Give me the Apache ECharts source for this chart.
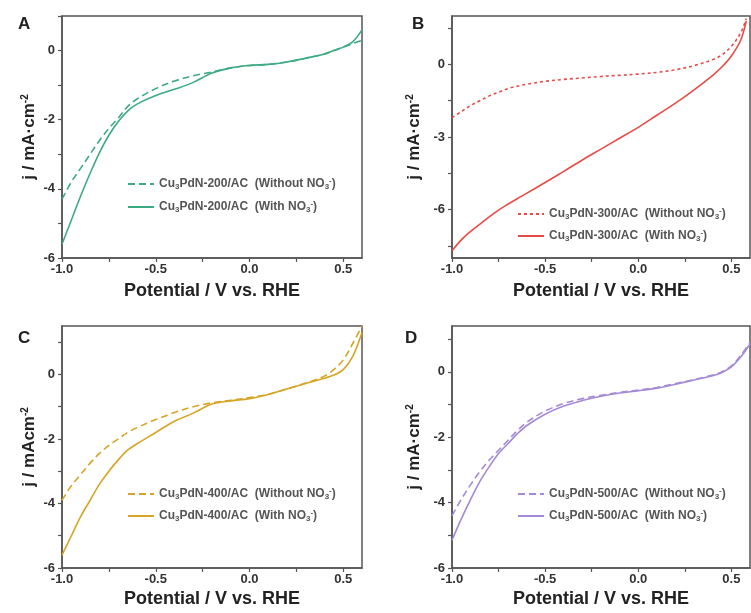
<!DOCTYPE html>
<html>
<head>
<meta charset="utf-8">
<script src="https://cdn.jsdelivr.net/npm/echarts@6/dist/echarts.min.js"></script>
<style>
html,body{margin:0;padding:0;background:#fff;}
#chart{width:751px;height:613px;}
</style>
</head>
<body>
<div id="chart"></div>
<script>
// ---- data ----
const potential = [-1.0,-0.95,-0.9,-0.85,-0.8,-0.75,-0.7,-0.65,-0.6,-0.5,-0.4,-0.3,-0.2,-0.1,0.0,0.1,0.2,0.3,0.4,0.45,0.5,0.55,0.6];
const potentialB = [-1.0,-0.95,-0.9,-0.85,-0.8,-0.75,-0.7,-0.65,-0.6,-0.5,-0.4,-0.3,-0.2,-0.1,0.0,0.1,0.2,0.3,0.4,0.45,0.5,0.55,0.58];

const a200Without = [-4.3,-3.8,-3.4,-3.0,-2.6,-2.25,-1.95,-1.62,-1.4,-1.1,-0.88,-0.73,-0.62,-0.5,-0.43,-0.4,-0.33,-0.22,-0.1,0.0,0.1,0.2,0.3];
const a200With    = [-5.6,-4.9,-4.2,-3.55,-2.95,-2.45,-2.05,-1.75,-1.55,-1.3,-1.12,-0.92,-0.65,-0.5,-0.43,-0.4,-0.33,-0.22,-0.1,0.0,0.1,0.25,0.6];

const b300Without = [-2.2,-1.95,-1.7,-1.5,-1.3,-1.15,-1.0,-0.9,-0.82,-0.7,-0.62,-0.56,-0.5,-0.45,-0.4,-0.33,-0.22,-0.05,0.2,0.4,0.75,1.3,1.9];
const b300With    = [-7.7,-7.25,-6.9,-6.6,-6.3,-6.02,-5.78,-5.55,-5.33,-4.88,-4.42,-3.95,-3.5,-3.05,-2.6,-2.1,-1.6,-1.05,-0.45,-0.1,0.35,1.0,1.8];

const c400Without = [-3.9,-3.45,-3.1,-2.75,-2.45,-2.2,-2.0,-1.8,-1.65,-1.4,-1.18,-1.0,-0.88,-0.8,-0.72,-0.62,-0.45,-0.27,-0.05,0.15,0.45,0.95,1.5];
const c400With    = [-5.6,-5.0,-4.4,-3.9,-3.4,-3.0,-2.65,-2.35,-2.15,-1.8,-1.45,-1.2,-0.92,-0.82,-0.75,-0.62,-0.45,-0.28,-0.12,-0.02,0.15,0.55,1.3];

const d500Without = [-4.4,-3.9,-3.45,-3.05,-2.7,-2.4,-2.1,-1.8,-1.55,-1.2,-0.97,-0.82,-0.72,-0.63,-0.56,-0.48,-0.36,-0.24,-0.1,0.0,0.18,0.5,0.9];
const d500With    = [-5.15,-4.5,-3.9,-3.35,-2.9,-2.5,-2.2,-1.9,-1.65,-1.3,-1.05,-0.88,-0.75,-0.65,-0.58,-0.5,-0.38,-0.25,-0.12,-0.02,0.15,0.45,0.85];

const xTickLabels = [-1.0,-0.5,0.0,0.5];
const xTicks = [-1.0,-0.75,-0.5,-0.25,0.0,0.25,0.5];
const yLabelsACD = [-6,-4,-2,0];
const yLabelsB = [-6,-3,0];

const panels = [
  {letter:'A', temp:'200', x:potential, without:a200Without, withN:a200With, color:'#3dab82', ymin:-6, ymax:1,
   ylabels:yLabelsACD, yticks:[-6,-5,-4,-3,-2,-1,0,1], ytitle:'j / mA·cm{sup|-2}',
   grid:{left:62, top:16, width:300, height:242}, nameGapY:24, dash:[7,4],
   legend:{left:127, top:177, itemGap:9}, letterPos:[18,16]},
  {letter:'B', temp:'300', x:potentialB, without:b300Without, withN:b300With, color:'#e64b46', ymin:-8, ymax:2,
   ylabels:yLabelsB, yticks:[-7.5,-6,-4.5,-3,-1.5,0,1.5], ytitle:'j / mA·cm{sup|-2}',
   grid:{left:452, top:16, width:298, height:242}, nameGapY:29, dash:[3,3],
   legend:{left:517, top:207, itemGap:8}, letterPos:[412,16]},
  {letter:'C', temp:'400', x:potential, without:c400Without, withN:c400With, color:'#d6a526', ymin:-6, ymax:1.5,
   ylabels:yLabelsACD, yticks:[-6,-5,-4,-3,-2,-1,0,1], ytitle:'j / mAcm{sup|-2}',
   grid:{left:62, top:326, width:300, height:242}, nameGapY:24, dash:[7,4],
   legend:{left:127, top:487, itemGap:8}, letterPos:[18,330]},
  {letter:'D', temp:'500', x:potential, without:d500Without, withN:d500With, color:'#a48ad6', ymin:-6, ymax:1.4,
   ylabels:yLabelsACD, yticks:[-6,-5,-4,-3,-2,-1,0,1], ytitle:'j / mA·cm{sup|-2}',
   grid:{left:452, top:326, width:298, height:242}, nameGapY:29, dash:[7,4],
   legend:{left:517, top:487, itemGap:8}, letterPos:[405,330]}
];

const FONT = '"Liberation Sans", Arial, sans-serif';
const AXC = '#555';

const grids = [], xAxes = [], yAxes = [], series = [], legends = [], graphics = [];

panels.forEach((p, i) => {
  grids.push(Object.assign({show:true, borderColor:AXC, borderWidth:1.5, backgroundColor:'transparent'}, p.grid));
  xAxes.push({
    type:'value', gridIndex:i, min:-1, max:0.6,
    name:'Potential / V vs. RHE', nameLocation:'middle', nameGap: i < 2 ? 24 : 22,
    nameTextStyle:{fontFamily:FONT, fontWeight:'bold', fontSize:18, color:'#222'},
    axisLine:{show:true, onZero:false, lineStyle:{color:AXC, width:1.5}},
    axisTick:{show:true, inside:false, length:4, lineStyle:{color:AXC, width:1.2}, customValues:xTicks},
    axisLabel:{show:true, customValues:xTickLabels, margin:5, fontFamily:FONT, fontWeight:'bold', fontSize:13, color:'#333',
      formatter:(v)=>v.toFixed(1)},
    splitLine:{show:false}
  });
  yAxes.push({
    type:'value', gridIndex:i, min:p.ymin, max:p.ymax,
    name:p.ytitle, nameLocation:'middle', nameGap:p.nameGapY, nameRotate:90,
    nameTextStyle:{fontFamily:FONT, fontWeight:'bold', fontSize:17, color:'#222',
      rich:{sup:{fontFamily:FONT, fontWeight:'bold', fontSize:10, color:'#222', verticalAlign:'top', padding:[0,0,8,0]}}},
    axisLine:{show:true, onZero:false, lineStyle:{color:AXC, width:1.5}},
    axisTick:{show:true, inside:false, length:4, lineStyle:{color:AXC, width:1.2}, customValues:p.yticks},
    axisLabel:{show:true, customValues:p.ylabels, margin:7, fontFamily:FONT, fontWeight:'bold', fontSize:13, color:'#333',
      formatter:(v)=>String(v)},
    splitLine:{show:false}
  });
  const nWithout = 'Cu3PdN-' + p.temp + '/AC  (Without NO3-)';
  const nWith = 'Cu3PdN-' + p.temp + '/AC  (With NO3-)';
  series.push({
    name:nWithout, type:'line', xAxisIndex:i, yAxisIndex:i, smooth:0.35, symbol:'none',
    lineStyle:{color:p.color, width:1.6, type:p.dash}, itemStyle:{color:p.color},
    data:p.x.map((x, k) => [x, p.without[k]]), z:3
  });
  series.push({
    name:nWith, type:'line', xAxisIndex:i, yAxisIndex:i, smooth:0.35, symbol:'none',
    lineStyle:{color:p.color, width:1.6, type:'solid'}, itemStyle:{color:p.color},
    data:p.x.map((x, k) => [x, p.withN[k]]), z:4
  });
  legends.push({
    data:[nWithout, nWith], orient:'vertical', left:p.legend.left, top:p.legend.top,
    itemGap:p.legend.itemGap, itemWidth:26, itemHeight:10, padding:0,
    selectedMode:false,
    itemStyle:{opacity:0},
    formatter:(name) => name.replace('Cu3PdN', 'Cu{s|3}PdN').replace('NO3-', 'NO{s|3}{p|-}'),
    textStyle:{fontFamily:FONT, fontWeight:'bold', fontSize:12, color:'#555',
      rich:{
        s:{fontFamily:FONT, fontWeight:'bold', fontSize:8, color:'#555', verticalAlign:'bottom', padding:[4,0,0,0]},
        p:{fontFamily:FONT, fontWeight:'bold', fontSize:8, color:'#555', verticalAlign:'top', padding:[0,0,6,0]}
      }}
  });
  graphics.push({
    type:'text', left:p.letterPos[0], top:p.letterPos[1],
    style:{text:p.letter, fontFamily:FONT, fontWeight:'bold', fontSize:17, fill:'#222'}
  });
});

const chart = echarts.init(document.getElementById('chart'), null, {renderer:'canvas'});
chart.setOption({
  animation:false,
  backgroundColor:'#fff',
  grid:grids, xAxis:xAxes, yAxis:yAxes, series:series, legend:legends, graphic:graphics
});
</script>
</body>
</html>
